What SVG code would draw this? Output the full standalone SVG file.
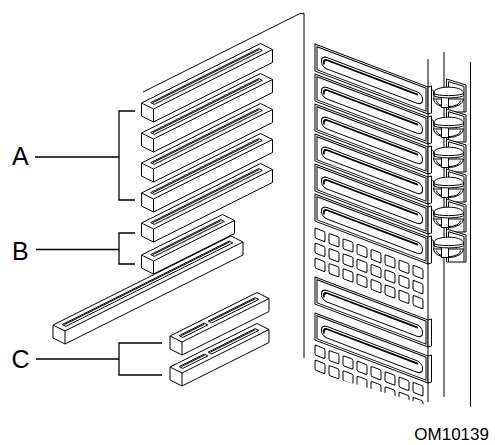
<svg xmlns="http://www.w3.org/2000/svg" width="495" height="445" viewBox="0 0 495 445">
<style>
.k{fill:none;stroke:#000;stroke-width:1}
.w{fill:#fff;stroke:#000;stroke-width:1;stroke-linejoin:round}
.t{fill:none;stroke:#000;stroke-width:1.8}
.ld{fill:none;stroke:#000;stroke-width:1.3}
.lbl{font-family:"Liberation Sans",Arial,Helvetica,sans-serif;font-size:25px;fill:#000}
.om{font-family:"Liberation Sans",Arial,Helvetica,sans-serif;font-size:17px;fill:#000}
</style>
<defs>
<g id="slotA">
<path class="w" d="M0,0 L119,-59.5 L131,-53.5 L131,-40.5 L12,19 L0,13 Z"/>
<path class="k" d="M0,0 L12,6 L12,19 M12,6 L131,-53.5"/>
<path class="k" d="M9.2,-0.4 L117.2,-54.4 L120.8,-52.6 L12.8,1.4 Z M11.4,-0.3 L117.4,-53.3"/>
</g>
<g id="slotS">
<path class="w" d="M0,0 L81,-40.5 L93,-34.5 L93,-21.5 L12,19 L0,13 Z"/>
<path class="k" d="M0,0 L12,6 L12,19 M12,6 L93,-34.5"/>
<path class="k" d="M9.2,-0.4 L79.2,-35.4 L82.8,-33.6 L12.8,1.4 Z M11.4,-0.3 L79.4,-34.3"/>
</g>
<g id="slotL">
<path class="w" d="M0,0 L178,-89 L190,-83 L190,-70 L12,19 L0,13 Z"/>
<path class="k" d="M0,0 L12,6 L12,19 M12,6 L190,-83"/>
<path class="k" d="M9.2,-0.4 L176.2,-83.9 L179.8,-82.1 L12.8,1.4 Z M11.4,-0.3 L176.4,-82.8"/>
</g>
<g id="slotC">
<path class="w" d="M0,0 L87,-43.5 L99,-37.5 L99,-24.5 L12,19 L0,13 Z"/>
<path class="k" d="M0,0 L12,6 L12,19 M12,6 L99,-37.5"/>
<path class="k" d="M9.2,-0.4 L34.2,-12.9 L37.8,-11.1 L12.8,1.4 Z M11.4,-0.3 L34.4,-11.8"/>
<path class="k" d="M38.2,-14.9 L85.2,-38.4 L88.8,-36.6 L41.8,-13.1 Z M40.4,-14.8 L85.4,-37.3"/>
</g>
<g id="cover">
<rect class="w" width="113" height="27"/>
<rect class="k" x="2" y="2" width="109" height="23"/>
<rect class="k" x="6.5" y="9" width="101" height="11.5" rx="5.5" ry="5"/>
<path class="t" d="M103,11.6 H12 A3.6,3.6 0 0 0 9.2,17"/>
</g>
<g id="lip">
<path class="w" d="M428,0 L431.5,-1 L431.5,26 L428,27 Z"/>
</g>
<g id="grid3">
<g class="k">
<rect x="0" y="0" width="10" height="10" rx="1.5"/><rect x="14" y="0" width="10" height="10" rx="1.5"/><rect x="28" y="0" width="10" height="10" rx="1.5"/><rect x="42" y="0" width="10" height="10" rx="1.5"/><rect x="56" y="0" width="10" height="10" rx="1.5"/><rect x="70" y="0" width="10" height="10" rx="1.5"/><rect x="84" y="0" width="10" height="10" rx="1.5"/><rect x="98" y="0" width="10" height="10" rx="1.5"/>
<rect x="0" y="15" width="10" height="10" rx="1.5"/><rect x="14" y="15" width="10" height="10" rx="1.5"/><rect x="28" y="15" width="10" height="10" rx="1.5"/><rect x="42" y="15" width="10" height="10" rx="1.5"/><rect x="56" y="15" width="10" height="10" rx="1.5"/><rect x="70" y="15" width="10" height="10" rx="1.5"/><rect x="84" y="15" width="10" height="10" rx="1.5"/><rect x="98" y="15" width="10" height="10" rx="1.5"/>
<rect x="0" y="30" width="10" height="10" rx="1.5"/><rect x="14" y="30" width="10" height="10" rx="1.5"/><rect x="28" y="30" width="10" height="10" rx="1.5"/><rect x="42" y="30" width="10" height="10" rx="1.5"/><rect x="56" y="30" width="10" height="10" rx="1.5"/><rect x="70" y="30" width="10" height="10" rx="1.5"/><rect x="84" y="30" width="10" height="10" rx="1.5"/><rect x="98" y="30" width="10" height="10" rx="1.5"/>
</g>
</g>
<g id="clip">
<path class="w" d="M446.5,-8 L466,-2 L466,25 L446.5,25 Z"/>
<path class="k" d="M448.5,25 L448.5,-5.3 L464,-0.6 L464,25"/>
<path class="w" d="M433.5,12 A15,8.5 0 0 0 463.5,12 Z"/>
<path class="k" d="M436.5,13.6 A12,6 0 0 0 460.5,13.6"/>
<rect class="w" x="441.5" y="8" width="7" height="12.5"/>
<path class="w" d="M433.5,6 V8.3 A15,2.6 0 0 0 463.5,8.3 V6"/>
<path class="w" d="M433.5,6 C434,-1.8 463,-1.8 463.5,6 A15,2.6 0 0 1 433.5,6 Z"/>
<path class="k" d="M431.5,3 C435.5,3 434.5,9 433.5,12"/>
</g>
<clipPath id="cut"><polygon points="300,330 440,330 440,409 300,368"/></clipPath>
</defs>

<g id="chassis">
<path class="k" d="M143,92 L300,13.5 L304,13.5 L304,358"/>
</g>

<g id="backpanel">
<path class="k" d="M428,59 V402 M444,52 V397 M470.5,62 V407"/>
<g id="covers-upper">
<use href="#cover" transform="translate(315,44) skewY(20.8)"/>
<use href="#cover" transform="translate(315,74) skewY(20.8)"/>
<use href="#cover" transform="translate(315,104) skewY(20.8)"/>
<use href="#cover" transform="translate(315,134) skewY(20.8)"/>
<use href="#cover" transform="translate(315,164) skewY(20.8)"/>
<use href="#cover" transform="translate(315,194) skewY(20.8)"/>
<use href="#lip" transform="translate(0,87)"/>
<use href="#lip" transform="translate(0,117)"/>
<use href="#lip" transform="translate(0,147)"/>
<use href="#lip" transform="translate(0,177)"/>
<use href="#lip" transform="translate(0,207)"/>
<use href="#lip" transform="translate(0,237)"/>
</g>
<g id="clips">
<use href="#clip" transform="translate(0,87)"/>
<use href="#clip" transform="translate(0,117)"/>
<use href="#clip" transform="translate(0,147)"/>
<use href="#clip" transform="translate(0,177)"/>
<use href="#clip" transform="translate(0,207)"/>
<use href="#clip" transform="translate(0,237)"/>
</g>
<use href="#grid3" transform="translate(315,228) skewY(20.8)"/>
<g id="covers-lower">
<use href="#cover" transform="translate(315,277) skewY(20.8)"/>
<use href="#cover" transform="translate(315,313) skewY(20.8)"/>
<use href="#lip" transform="translate(0,320)"/>
<use href="#lip" transform="translate(0,356)"/>
</g>
<g clip-path="url(#cut)">
<use href="#grid3" transform="translate(315,345) skewY(20.8)"/>
</g>
</g>

<g id="slots">
<g id="slot-a1"><use href="#slotA" x="141.5" y="103"/></g>
<g id="slot-a2"><use href="#slotA" x="141.5" y="133"/></g>
<g id="slot-a3"><use href="#slotA" x="141.5" y="163"/></g>
<g id="slot-a4"><use href="#slotA" x="141.5" y="193"/></g>
<g id="slot-b1"><use href="#slotA" x="141.5" y="223"/></g>
<g id="slot-long"><use href="#slotL" x="53" y="325"/></g>
<g id="slot-b2"><use href="#slotS" x="141.5" y="255"/></g>
<g id="slot-c1"><use href="#slotC" x="170" y="336"/></g>
<g id="slot-c2"><use href="#slotC" x="170" y="367"/></g>
</g>

<g id="connectors">
<path class="ld" d="M35,157 H119 M135,111 H119 V200 H135"/>
<path class="ld" d="M36,249.5 H119 M135,233 H119 V264 H135"/>
<path class="ld" d="M36,359 H119 M162,343 H119 V375 H162"/>
</g>

<g id="label-A"><text class="lbl" x="12" y="165">A</text></g>
<g id="label-B"><text class="lbl" x="12" y="259.5">B</text></g>
<g id="label-C"><text class="lbl" x="11.5" y="368">C</text></g>
<g id="label-om"><text class="om" x="489" y="440" text-anchor="end">OM10139</text></g>
</svg>
